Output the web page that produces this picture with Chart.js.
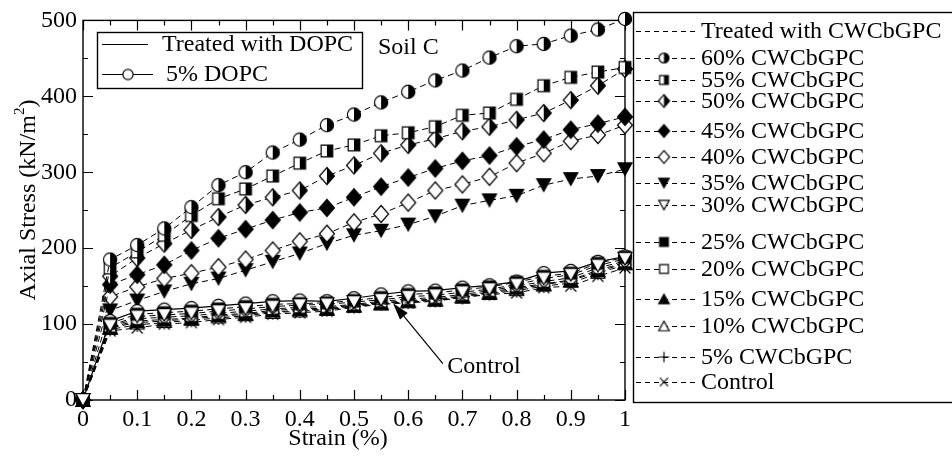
<!DOCTYPE html>
<html><head><meta charset="utf-8">
<script src="https://cdn.jsdelivr.net/npm/chart.js@4/dist/chart.umd.min.js"></script>
<style>html,body{margin:0;padding:0;background:#fff;}#wrap{width:952px;height:457px;}</style>
</head><body><div id="wrap"><canvas id="c" width="952" height="457"></canvas></div>
<script>
// ---- data ----
const strain  = [0,0.05,0.1,0.15,0.2,0.25,0.3,0.35,0.4,0.45,0.5,0.55,0.6,0.65,0.7,0.75,0.8,0.85,0.9,0.95,1];
const s60     = [0,185,204,226,254,283,300,326,343,362,376,392,406,421,434,451,466,469,480,488,502];
const s55     = [0,174,195,217,243,265,278,295,312,328,336,348,352,360,375,378,396,414,425,432,438];
const s50     = [0,163,187,206,224,241,257,267,276,295,309,325,336,344,354,360,369,378,395,414,436];
const s45     = [0,152,165,178,197,213,225,237,247,253,267,281,293,305,315,322,334,343,356,364,373];
const s40     = [0,136,149,160,167,175,185,197,209,219,234,245,260,276,284,294,312,325,341,349,362];
const s35     = [0,118,131,143,153,160,171,182,193,206,217,223,231,242,256,263,269,283,291,295,304];
const s30     = [0,98,110,112,114,117,120,123,125,126,129,132,136,138,142,146,152,160,165,177,186];
const s25     = [0,101,113,115,117,120,123,126,127,128,131,135,139,141,145,149,155,163,167,180,188];
const s20     = [0,97,107,109,111,114,117,120,122,123,126,130,133,135,139,144,150,156,161,174,183];
const s15     = [0,96,104,106,108,112,114,118,120,121,125,128,131,133,137,142,148,153,158,171,181];
const s10     = [0,95,102,104,107,110,113,116,118,120,124,127,130,132,136,141,146,152,157,169,180];
const s5      = [0,93,99,102,105,108,111,115,117,119,123,127,129,131,135,140,144,150,154,167,178];
const sControl= [0,91,95,100,102,106,109,113,115,117,122,126,128,130,135,139,141,148,150,163,174];
const dopc5   = [0,104,117,119,121,124,127,130,131,130,134,139,143,144,148,151,156,167,170,182,189];

const xTickLabels = ['0','0.1','0.2','0.3','0.4','0.5','0.6','0.7','0.8','0.9','1'];
const yTickLabels = ['0','100','200','300','400','500'];
const legendLabels = ['Treated with CWCbGPC','60% CWCbGPC','55% CWCbGPC','50% CWCbGPC','45% CWCbGPC',
  '40% CWCbGPC','35% CWCbGPC','30% CWCbGPC','25% CWCbGPC','20% CWCbGPC','15% CWCbGPC','10% CWCbGPC',
  '5% CWCbGPC','Control'];
const innerLegendLabels = ['Treated with DOPC','5% DOPC'];
const xTitle = 'Strain (%)';
const yTitle = 'Axial Stress (kN/m';
const soilLabel = 'Soil C';
const arrowLabel = 'Control';

// ---- marker images ----
function makeMarker(kind, s) {
  const d = Math.ceil(20*s) + 4;
  const c = document.createElement('canvas'); c.width = d; c.height = d;
  const g = c.getContext('2d');
  const cx = d/2, cy = d/2;
  g.lineWidth = 1.2; g.strokeStyle = '#000'; g.lineJoin = 'miter';
  const r = 6.6*s, h = 5.8*s, dw = 7.5*s, dh = 8.5*s, tw = 7*s, th = 6.3*s, pa = 7*s, xa = 5.5*s;
  const white = () => { g.fillStyle = '#fff'; g.fill(); };
  const black = () => { g.fillStyle = '#000'; g.fill(); };
  switch (kind) {
    case 'circleO': g.beginPath(); g.arc(cx,cy,r,0,Math.PI*2); white(); g.stroke(); break;
    case 'halfCircle':
      g.beginPath(); g.arc(cx,cy,r,0,Math.PI*2); white();
      g.beginPath(); g.moveTo(cx,cy-r); g.arc(cx,cy,r,-Math.PI/2,Math.PI/2); g.closePath(); black();
      g.beginPath(); g.arc(cx,cy,r,0,Math.PI*2); g.stroke(); break;
    case 'squareF': g.beginPath(); g.rect(cx-h,cy-h,2*h,2*h); black(); g.stroke(); break;
    case 'squareO': g.beginPath(); g.rect(cx-h,cy-h,2*h,2*h); white(); g.stroke(); break;
    case 'halfSquare':
      g.beginPath(); g.rect(cx-h,cy-h,2*h,2*h); white();
      g.beginPath(); g.rect(cx,cy-h,h,2*h); black();
      g.beginPath(); g.rect(cx-h,cy-h,2*h,2*h); g.stroke(); break;
    case 'diamondF': case 'diamondO': case 'halfDiamond':
      g.beginPath(); g.moveTo(cx,cy-dh); g.lineTo(cx+dw,cy); g.lineTo(cx,cy+dh); g.lineTo(cx-dw,cy); g.closePath();
      if (kind==='diamondF') black(); else white();
      if (kind==='halfDiamond') {
        g.save(); g.beginPath(); g.moveTo(cx,cy-dh); g.lineTo(cx+dw,cy); g.lineTo(cx,cy+dh); g.closePath(); black(); g.restore();
        g.beginPath(); g.moveTo(cx,cy-dh); g.lineTo(cx+dw,cy); g.lineTo(cx,cy+dh); g.lineTo(cx-dw,cy); g.closePath();
      }
      g.stroke(); break;
    case 'triDownF': case 'triDownO':
      g.beginPath(); g.moveTo(cx-tw,cy-th); g.lineTo(cx+tw,cy-th); g.lineTo(cx,cy+th); g.closePath();
      if (kind==='triDownF') black(); else white(); g.stroke(); break;
    case 'triUpF': case 'triUpO':
      g.beginPath(); g.moveTo(cx-tw,cy+th); g.lineTo(cx+tw,cy+th); g.lineTo(cx,cy-th); g.closePath();
      if (kind==='triUpF') black(); else white(); g.stroke(); break;
    case 'plus':
      g.beginPath(); g.moveTo(cx-pa,cy); g.lineTo(cx+pa,cy); g.moveTo(cx,cy-pa); g.lineTo(cx,cy+pa); g.stroke(); break;
    case 'cross':
      g.beginPath(); g.moveTo(cx-xa,cy-xa); g.lineTo(cx+xa,cy+xa); g.moveTo(cx+xa,cy-xa); g.lineTo(cx-xa,cy+xa); g.stroke(); break;
  }
  return c;
}

const seriesDefs = [
  // listed top-most first (Chart.js draws index 0 last)
  {data: s30, m: 'triDownO'},
  {data: sControl, m: 'cross'},
  {data: s25, m: 'squareF'},
  {data: dopc5, m: 'circleO', solid: true},
  {data: s20, m: 'squareO'},
  {data: s15, m: 'triUpF'},
  {data: s10, m: 'triUpO'},
  {data: s5, m: 'plus'},
  {data: s60, m: 'halfCircle'},
  {data: s55, m: 'halfSquare'},
  {data: s50, m: 'halfDiamond'},
  {data: s45, m: 'diamondF'},
  {data: s40, m: 'diamondO'},
  {data: s35, m: 'triDownF'}
];
const datasets = seriesDefs.map(sd => ({
  data: strain.map((x,i) => ({x: x, y: sd.data[i]})),
  borderColor: '#000',
  borderWidth: sd.solid ? 1.2 : 1,
  borderDash: sd.solid ? [] : [6,4],
  pointStyle: makeMarker(sd.m, 1),
  pointRadius: 5, pointHoverRadius: 5,
  fill: false, tension: 0, clip: false
}));

const legendMarkers = [null,'halfCircle','halfSquare','halfDiamond','diamondF','diamondO','triDownF','triDownO',
  'squareF','squareO','triUpF','triUpO','plus','cross'].map(k => k ? makeMarker(k, 0.75) : null);
const legendRows = [31, 58, 80, 101, 131, 157, 183, 205, 242, 269, 299, 326, 357, 382];
const FONT = '24px "Liberation Serif"';

const deco = {
  id: 'deco',
  beforeDatasetsDraw(chart) {
    const g = chart.ctx, a = chart.chartArea, xs = chart.scales.x, ys = chart.scales.y;
    g.save();
    g.strokeStyle = '#000'; g.lineWidth = 1.4;
    g.strokeRect(a.left, a.top, a.right - a.left, a.bottom - a.top);
    g.lineWidth = 1.2;
    g.beginPath();
    strain.forEach((v, i) => {
      const px = Math.round(xs.getPixelForValue(v)) + 0.5;
      const L = (i % 2 === 0) ? 10 : 5;
      g.moveTo(px, a.bottom); g.lineTo(px, a.bottom - L);
      g.moveTo(px, a.top); g.lineTo(px, a.top + L);
    });
    for (let v = 0; v <= 500; v += 50) {
      const py = Math.round(ys.getPixelForValue(v)) + 0.5;
      const L = (v % 100 === 0) ? 10 : 5;
      g.moveTo(a.left, py); g.lineTo(a.left + L, py);
      g.moveTo(a.right, py); g.lineTo(a.right - L, py);
    }
    g.stroke();
    g.restore();
  },
  afterDraw(chart) {
    const g = chart.ctx, a = chart.chartArea, xs = chart.scales.x, ys = chart.scales.y;
    g.save();
    g.fillStyle = '#000'; g.strokeStyle = '#000';
    g.font = FONT; g.textBaseline = 'middle'; g.textAlign = 'left';

    // right legend
    g.lineWidth = 1.4;
    g.strokeRect(633.5, 12.5, 340, 390);
    legendLabels.forEach((lab, i) => {
      const y = legendRows[i];
      g.save(); g.lineWidth = 1; g.setLineDash([5,4]);
      g.beginPath(); g.moveTo(636, y + 0.5); g.lineTo(695, y + 0.5); g.stroke(); g.restore();
      const mk = legendMarkers[i];
      if (mk) g.drawImage(mk, 664 - mk.width/2, y - mk.height/2);
      g.fillText(lab, 701, y + 1);
    });

    // inner legend
    g.fillStyle = '#fff'; g.fillRect(97, 32, 265, 56); g.fillStyle = '#000';
    g.lineWidth = 1.4; g.strokeRect(97.5, 32.5, 265, 56);
    g.lineWidth = 1.2;
    g.beginPath(); g.moveTo(102, 44.5); g.lineTo(148, 44.5); g.moveTo(102, 74.5); g.lineTo(153, 74.5); g.stroke();
    const cm = makeMarker('circleO', 0.78);
    g.drawImage(cm, 128 - cm.width/2, 74.5 - cm.height/2);
    g.fillText(innerLegendLabels[0], 162, 45);
    g.fillText(innerLegendLabels[1], 166, 75);

    // Soil C
    g.fillText(soilLabel, 378, 48);

    // Control annotation with arrow (positions in data units)
    const tip = {x: xs.getPixelForValue(0.572), y: ys.getPixelForValue(127.6)};
    const tail = {x: xs.getPixelForValue(0.664), y: ys.getPixelForValue(48)};
    const ang = Math.atan2(tip.y - tail.y, tip.x - tail.x);
    const hl = 17, hw = 5;
    const bx = tip.x - hl*Math.cos(ang), by = tip.y - hl*Math.sin(ang);
    g.lineWidth = 1.2;
    g.beginPath(); g.moveTo(tail.x, tail.y); g.lineTo(bx, by); g.stroke();
    g.beginPath(); g.moveTo(tip.x, tip.y);
    g.lineTo(bx + hw*Math.sin(ang), by - hw*Math.cos(ang));
    g.lineTo(bx - hw*Math.sin(ang), by + hw*Math.cos(ang));
    g.closePath(); g.fill();
    g.fillText(arrowLabel, xs.getPixelForValue(0.672), ys.getPixelForValue(45.6) + 1);

    // axis titles
    g.textAlign = 'center';
    g.fillText(xTitle, 338, 439);
    g.save();
    g.translate(27, 200); g.rotate(-Math.PI/2);
    g.textAlign = 'left'; g.textBaseline = 'alphabetic';
    const w1 = g.measureText(yTitle).width;
    g.font = '15px "Liberation Serif"';
    const w2 = g.measureText('2').width;
    g.font = FONT;
    const w3 = g.measureText(')').width;
    const x0 = -(w1 + w2 + w3)/2;
    g.fillText(yTitle, x0, 8);
    g.font = '15px "Liberation Serif"';
    g.fillText('2', x0 + w1, -3);
    g.font = FONT;
    g.fillText(')', x0 + w1 + w2, 8);
    g.restore();
    g.restore();
  }
};

Chart.defaults.font.family = '"Liberation Serif"';
Chart.defaults.color = '#000';

new Chart(document.getElementById('c'), {
  type: 'line',
  data: { datasets: datasets },
  options: {
    responsive: false, animation: false,
    layout: { padding: { top: 16, right: 327, left: 0, bottom: 0 } },
    plugins: { legend: { display: false }, tooltip: { enabled: false } },
    events: [],
    scales: {
      x: {
        type: 'linear', min: 0, max: 1,
        afterFit(s) { s.height = 57; },
        afterBuildTicks(s) { s.ticks = strain.map(v => ({value: v})); },
        grid: { display: false, drawTicks: false }, border: { display: false },
        ticks: { autoSkip: false, maxRotation: 0, minRotation: 0, padding: 5, color: '#000',
          font: { size: 24 },
          callback: (v) => { const k = Math.round(v*20); return k % 2 === 0 ? xTickLabels[k/2] : ''; } }
      },
      y: {
        type: 'linear', min: 0, max: 500,
        afterFit(s) { s.width = 83; },
        afterBuildTicks(s) { const t = []; for (let v = 0; v <= 500; v += 50) t.push({value: v}); s.ticks = t; },
        grid: { display: false, drawTicks: false }, border: { display: false },
        ticks: { autoSkip: false, padding: 6, color: '#000', font: { size: 24 },
          callback: (v) => (v % 100 === 0 ? yTickLabels[v/100] : '') }
      }
    }
  },
  plugins: [deco]
});
</script>
</body></html>
